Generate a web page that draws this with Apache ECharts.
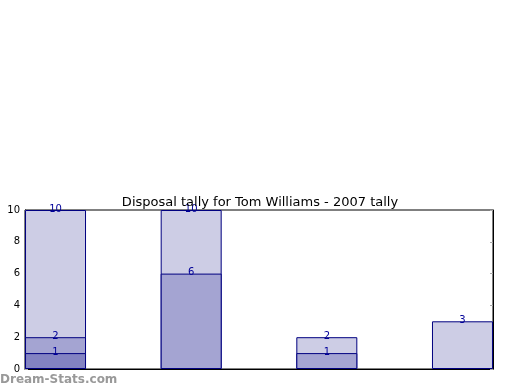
<!DOCTYPE html>
<html><head><meta charset="utf-8">
<script src="https://cdn.jsdelivr.net/npm/echarts@6/dist/echarts.min.js"></script>
<style>html,body{margin:0;padding:0;background:#fff}#c{width:520px;height:390px}</style>
</head><body><div id="c"></div>
<script>
var positions = [0, 1, 2, 3];
var backValues = [10, 10, 2, 3];
var midValues = [2, 6, 1, null];
var frontValues = [1, null, null, null];
var yTicks = [0, 2, 4, 6, 8, 10];
var titleText = 'Disposal tally for Tom Williams - 2007 tally';

function pts(vals){ return positions.map(function(p,i){ return vals[i]==null ? null : [p + 0.225, vals[i]]; }).filter(function(d){return d;}); }
var lbl = {show:true, position:'top', distance:-4, color:'#000099', fontSize:10, fontFamily:'DejaVu Sans'};
function mk(name, vals, color, z){
  return {name:name, type:'bar', data:pts(vals), barWidth:61, barGap:'-100%', z:z,
    itemStyle:{color:color, borderColor:'#000080', borderWidth:1}, label:lbl, animation:false};
}
var chart = echarts.init(document.getElementById('c'));
chart.setOption({
  animation:false,
  title:{text:titleText, left:255, top:191, textAlign:'center', textStyle:{fontSize:13, fontWeight:'normal', color:'#000', fontFamily:'DejaVu Sans'}},
  grid:{left:25, right:27, top:210, bottom:21, show:true, borderColor:'#000', borderWidth:1},
  xAxis:{type:'value', min:0, max:3.45, axisLine:{show:true, lineStyle:{color:'#000'}}, axisTick:{show:false}, axisLabel:{show:false}, splitLine:{show:false}},
  yAxis:[
    {type:'value', min:yTicks[0], max:yTicks[yTicks.length-1], interval:2, axisLine:{show:true, lineStyle:{color:'#000'}},
     axisTick:{show:true, inside:true, length:3, lineStyle:{color:'#aaa'}}, splitLine:{show:false},
     axisLabel:{color:'#000', fontSize:10, fontFamily:'DejaVu Sans', margin:5}},
    {type:'value', position:'right', min:yTicks[0], max:yTicks[yTicks.length-1], interval:2, axisLine:{show:true, lineStyle:{color:'#000'}},
     axisTick:{show:true, inside:true, length:3, lineStyle:{color:'#aaa'}}, splitLine:{show:false}, axisLabel:{show:false}}
  ],
  series:[
    mk('back', backValues, '#cdcde5', 2),
    mk('mid', midValues, '#a4a4d2', 3),
    mk('front', frontValues, '#8383c2', 4)
  ],
  graphic:[{type:'text', left:0, top:374, style:{text:'Dream-Stats.com', fill:'#999', font:'bold 12px "DejaVu Sans"'}}]
});
</script></body></html>
